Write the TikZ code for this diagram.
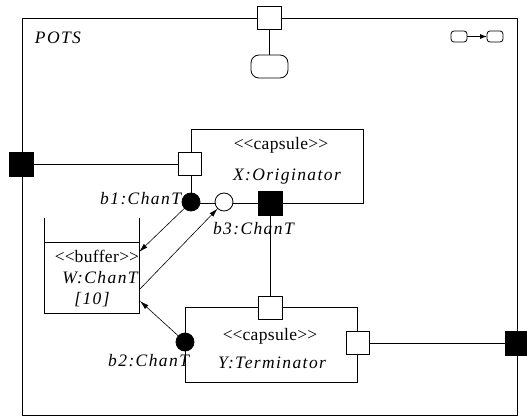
\documentclass[tikz,border=0pt]{standalone}
\usepackage{fontspec}
\setmainfont{Liberation Serif}
\usetikzlibrary{arrows.meta}
\begin{document}
\begin{tikzpicture}[x=1pt,y=-1pt,
  every node/.style={inner sep=0pt,outer sep=0pt},
  ln/.style={line width=0.8pt},
  wport/.style={draw,fill=white,line width=0.8pt,minimum size=23.5pt},
  bport/.style={draw,fill=black,line width=0.8pt,minimum size=24pt},
  bcirc/.style={circle,draw,fill=black,line width=0.8pt,minimum size=18pt},
  wcirc/.style={circle,draw,fill=white,line width=0.8pt,minimum size=18pt},
  lbl/.style={font=\fontsize{17.5}{19}\selectfont\itshape\addfontfeature{LetterSpace=8}},
  rom/.style={font=\fontsize{17.5}{19}\selectfont\addfontfeature{LetterSpace=2}},
  arr/.style={-{Latex[length=9pt,width=5pt]},line width=0.6pt},
  small/.style={draw,line width=0.8pt,rounded corners=3pt,minimum width=16pt,minimum height=11pt}]
\useasboundingbox (0,0) rectangle (527,417);
% frame
\node[draw,ln,anchor=north west,minimum width=495pt,minimum height=397pt] (frame) at (22,18) {};
\node[lbl] (pots) at (58,38) {POTS};
% icon
\node[small] (i1) at (459,36.5) {};
\node[small] (i2) at (495,36.5) {};
\draw[line width=0.8pt,-{Latex[length=7pt,width=5pt]}] (i1) -- (i2);
% top port and state
\node[wport] (tp) at (269.5,18) {};
\node[draw,ln,rounded corners=8pt,minimum width=37pt,minimum height=23pt] (st) at (269.5,66.5) {};
\draw[ln] (tp) -- (st);
% capsule X
\node[draw,ln,anchor=north west,minimum width=172pt,minimum height=74pt] (X) at (191,129) {};
\node[rom] (xs) at (281,145) {<\kern0pt<\kern0pt capsule>\kern0pt>};
\node[lbl] (xn) at (287,177) {X:Originator};
% capsule Y
\node[draw,ln,anchor=north west,minimum width=172pt,minimum height=75pt] (Y) at (185,307) {};
\node[rom] (ys) at (270,336) {<\kern0pt<\kern0pt capsule>\kern0pt>};
\node[lbl] (yn) at (272,363) {Y:Terminator};
% frame ports
\node[bport] (lp) at (21,164) {};
\node[bport] (rp) at (517,343) {};
% X ports
\node[wport] (xl) at (190,164) {};
\node[bport] (xb) at (270.5,203) {};
\node[bcirc] (b1) at (191,202) {};
\node[wcirc] (b3) at (224,202) {};
% Y ports
\node[wport] (yt) at (270.5,308) {};
\node[wport] (yr) at (358,343) {};
\node[bcirc] (b2) at (185,342) {};
% connectors
\draw[ln] (lp) -- (xl);
\draw[ln] (xb) -- (yt);
\draw[ln] (yr) -- (rp);
% buffer
\node[anchor=north west,minimum width=95pt,minimum height=71pt] (W) at (44,242) {};
\draw[ln] (44,218) -- (W.south west) -- (W.south east) -- (139,218);
\draw[ln] (W.north west) -- (W.north east);
\node[rom] (ws) at (97,256) {<\kern0pt<\kern0pt buffer>\kern0pt>};
\node[lbl] (wn) at (100,278) {W:ChanT};
\node[lbl] (wm) at (92,300) {[10]};
\coordinate (wa) at (139,252);
\coordinate (wb) at (139,290);
\coordinate (wc) at (140,301);
\draw[arr] (b1) -- (wa);
\draw[arr] (wb) -- (b3);
\draw[arr] (b2) -- (wc);
% labels
\node[lbl,anchor=east] (l1) at (181,199) {b1:ChanT};
\node[lbl,anchor=west] (l3) at (213,229) {b3:ChanT};
\node[lbl,anchor=east] (l2) at (189,361) {b2:ChanT};
\end{tikzpicture}
\end{document}
